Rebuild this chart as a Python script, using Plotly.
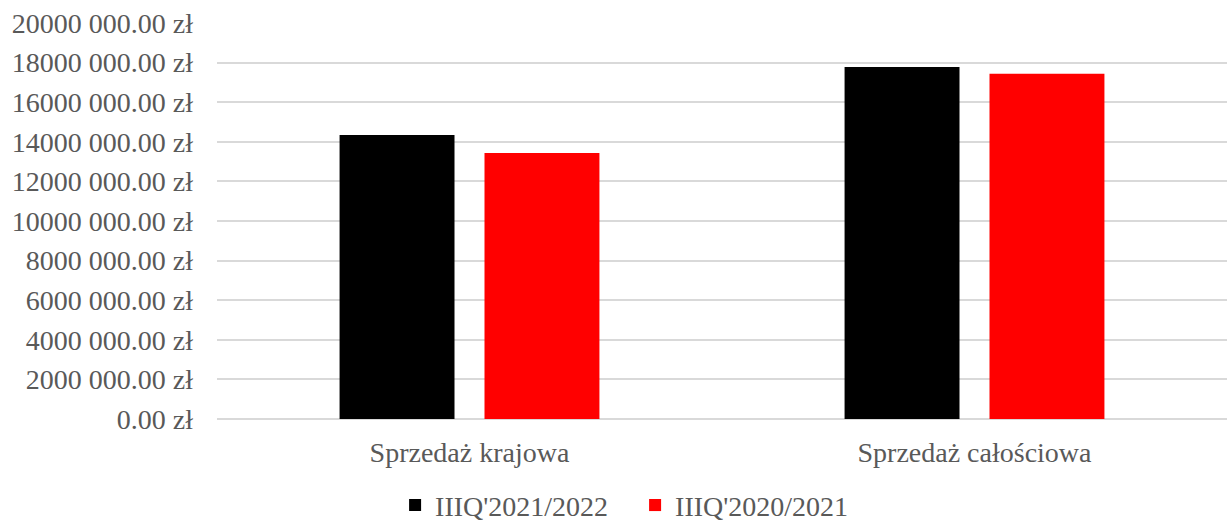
import plotly.graph_objects as go

categories = ["Sprzedaż krajowa", "Sprzedaż całościowa"]
series_names = ["IIIQ'2021/2022", "IIIQ'2020/2021"]
values_2021_2022 = [14340000, 17780000]
values_2020_2021 = [13430000, 17440000]
series_colors = ["#000000", "#ff0000"]

tick_values = [0, 2000000, 4000000, 6000000, 8000000, 10000000,
               12000000, 14000000, 16000000, 18000000, 20000000]
tick_labels = ["0.00 zł", "2000 000.00 zł", "4000 000.00 zł", "6000 000.00 zł",
               "8000 000.00 zł", "10000 000.00 zł", "12000 000.00 zł",
               "14000 000.00 zł", "16000 000.00 zł", "18000 000.00 zł",
               "20000 000.00 zł"]

FONT = "Liberation Serif"
GRAY = "#595959"
FS = 28

fig = go.Figure()
for name, vals, col in zip(series_names, [values_2021_2022, values_2020_2021], series_colors):
    fig.add_trace(go.Bar(x=categories, y=vals, name=name, marker_color=col,
                         marker_line_width=0))

fig.update_layout(
    width=1227, height=521,
    margin=dict(l=217, r=0, t=23, b=102, autoexpand=False),
    paper_bgcolor="white", plot_bgcolor="white",
    barmode="group", bargap=0.426, bargroupgap=0.207,
    font=dict(family=FONT, size=FS, color=GRAY),
    xaxis=dict(showgrid=False, showline=False, ticks="", tickfont=dict(size=FS, color=GRAY),
               ticklabelstandoff=14),
    yaxis=dict(range=[0, 20000000], tickvals=tick_values, ticktext=tick_labels,
               showgrid=True, gridcolor="#d9d9d9", gridwidth=2,
               zeroline=True, zerolinecolor="#d9d9d9", zerolinewidth=2,
               showline=False, ticks="", tickfont=dict(size=FS, color=GRAY),
               ticklabelstandoff=23),
    legend=dict(orientation="h", xref="container", yref="container",
                x=0.322, xanchor="left", y=0.03, yanchor="middle",
                font=dict(size=FS, color=GRAY), itemwidth=30,
                entrywidth=195, entrywidthmode="pixels",
                traceorder="normal", bgcolor="rgba(0,0,0,0)"),
    showlegend=True,
)

fig.write_html("out.html", config={"displayModeBar": False},
               post_script="document.body.style.margin='0';document.body.style.padding='0';")
